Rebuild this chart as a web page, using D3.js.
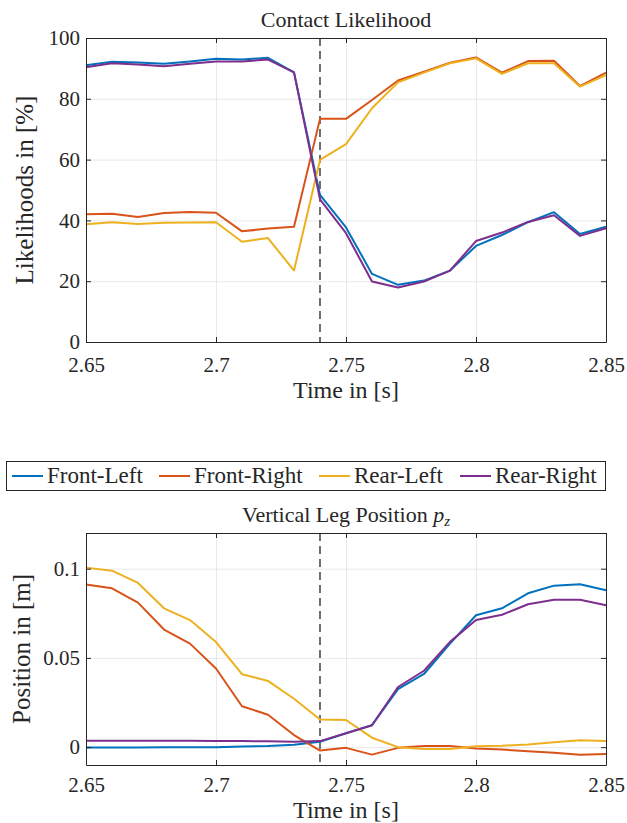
<!DOCTYPE html>
<html>
<head>
<meta charset="utf-8">
<script src="https://cdn.jsdelivr.net/npm/d3@7"></script>
<style>
  body { margin: 0; background: #fff; }
  svg text { font-family: "Liberation Serif", serif; fill: #262626; }
</style>
</head>
<body>
<div id="chart"></div>
<script>
// time samples [s]
const times = [2.65, 2.66, 2.67, 2.68, 2.69, 2.70, 2.71, 2.72, 2.73, 2.74, 2.75,
               2.76, 2.77, 2.78, 2.79, 2.80, 2.81, 2.82, 2.83, 2.84, 2.85];
const contactTime = 2.74;

const legNames = ['Front-Left', 'Front-Right', 'Rear-Left', 'Rear-Right'];
const legColors = ['#0072BD', '#D95319', '#EDB120', '#7E2F8E'];

// contact likelihood [%]
const likeFL = [91.0, 92.2, 91.9, 91.5, 92.3, 93.2, 92.9, 93.5, 88.7, 48.4, 37.7, 22.4, 18.8, 20.2, 23.5, 31.6, 35.2, 39.4, 42.7, 35.5, 37.9];
const likeFR = [42.0, 42.2, 41.1, 42.4, 42.8, 42.5, 36.4, 37.3, 37.9, 73.4, 73.4, 79.6, 86.0, 88.9, 91.9, 93.6, 88.6, 92.4, 92.5, 84.2, 88.6];
const likeRL = [38.7, 39.4, 38.8, 39.2, 39.3, 39.4, 33.0, 34.2, 23.5, 59.9, 65.1, 76.9, 85.4, 88.6, 91.7, 93.3, 88.2, 91.7, 91.7, 84.0, 87.8];
const likeRR = [90.4, 91.7, 91.3, 90.7, 91.5, 92.3, 92.3, 92.9, 88.7, 46.9, 35.8, 19.9, 17.9, 19.9, 23.5, 33.2, 36.0, 39.5, 41.7, 34.9, 37.4];

// vertical leg position [m]
const posFL = [-0.0002, -0.0002, -0.0002, -0.0001, -0.0001, 0.0000, 0.0003, 0.0006, 0.0013, 0.0030, 0.0078, 0.0123, 0.0325, 0.0410, 0.0580, 0.0739, 0.0778, 0.0862, 0.0905, 0.0913, 0.0879];
const posFR = [0.0911, 0.0890, 0.0810, 0.0659, 0.0580, 0.0441, 0.0229, 0.0182, 0.0068, -0.0019, -0.0004, -0.0042, -0.0004, 0.0006, 0.0006, -0.0008, -0.0013, -0.0023, -0.0032, -0.0042, -0.0038];
const posRL = [0.1006, 0.0989, 0.0920, 0.0778, 0.0712, 0.0589, 0.0409, 0.0371, 0.0271, 0.0155, 0.0152, 0.0053, 0.0000, -0.0010, -0.0010, 0.0005, 0.0008, 0.0015, 0.0028, 0.0038, 0.0034];
const posRR = [0.0036, 0.0036, 0.0036, 0.0036, 0.0036, 0.0035, 0.0034, 0.0033, 0.0030, 0.0034, 0.0078, 0.0123, 0.0337, 0.0428, 0.0590, 0.0712, 0.0742, 0.0801, 0.0826, 0.0826, 0.0795];

const xTicks = [2.65, 2.7, 2.75, 2.8, 2.85];
const likeTicks = [0, 20, 40, 60, 80, 100];
const posTicks = [0, 0.05, 0.1];

const W = 627, H = 823;
const FONT = '"Liberation Serif", serif';
const svg = d3.select('#chart').append('svg')
    .attr('width', W)
    .attr('height', H)
    .attr('font-family', FONT);

function drawPanel(opts) {
    const { top, bottom, yDomain, yTicks, yFmt, series, title, yLabel } = opts;
    const left = 86, right = 606;

    const x = d3.scaleLinear().domain([2.65, 2.85]).range([left, right]);
    const y = d3.scaleLinear().domain(yDomain).range([bottom, top]);

    const g = svg.append('g');

    // grid
    g.append('g')
        .attr('transform', `translate(0,${bottom})`)
        .call(d3.axisBottom(x).tickValues(xTicks).tickSize(-(bottom - top)).tickFormat(''))
        .call(a => a.select('.domain').remove())
        .selectAll('line').attr('stroke', '#e3e3e3').attr('stroke-width', 0.8);
    g.append('g')
        .attr('transform', `translate(${left},0)`)
        .call(d3.axisLeft(y).tickValues(yTicks).tickSize(-(right - left)).tickFormat(''))
        .call(a => a.select('.domain').remove())
        .selectAll('line').attr('stroke', '#e3e3e3').attr('stroke-width', 0.8);

    // dashed contact marker
    g.append('line')
        .attr('x1', x(contactTime)).attr('x2', x(contactTime))
        .attr('y1', top).attr('y2', bottom)
        .attr('stroke', '#111').attr('stroke-width', 1.2)
        .attr('stroke-dasharray', '8,5');

    // series
    const line = d3.line()
        .x((d, i) => x(times[i]))
        .y(d => y(d));
    series.forEach((vals, k) => {
        g.append('path')
            .datum(vals)
            .attr('fill', 'none')
            .attr('stroke', legColors[k])
            .attr('stroke-width', 2)
            .attr('stroke-linejoin', 'round')
            .attr('d', line);
    });

    // axes with inward ticks on every side
    const tick = 5;
    const axB = g.append('g')
        .attr('transform', `translate(0,${bottom})`)
        .call(d3.axisBottom(x).tickValues(xTicks).tickSizeInner(-tick).tickSizeOuter(0)
            .tickPadding(opts.xPad).tickFormat(d3.format('')));
    const axL = g.append('g')
        .attr('transform', `translate(${left},0)`)
        .call(d3.axisLeft(y).tickValues(yTicks).tickSizeInner(-tick).tickSizeOuter(0)
            .tickPadding(6).tickFormat(yFmt));
    g.append('g')
        .attr('transform', `translate(0,${top})`)
        .call(d3.axisTop(x).tickValues(xTicks).tickSizeInner(-tick).tickSizeOuter(0).tickFormat(''));
    g.append('g')
        .attr('transform', `translate(${right},0)`)
        .call(d3.axisRight(y).tickValues(yTicks).tickSizeInner(-tick).tickSizeOuter(0).tickFormat(''));

    g.selectAll('.domain').attr('stroke', '#262626').attr('stroke-width', 1);
    g.selectAll('.tick line').filter(function () { return !this.getAttribute('stroke-width'); })
        .attr('stroke', '#262626');
    [axB, axL].forEach(a => {
        a.attr('font-family', FONT).attr('font-size', 21);
        a.selectAll('text').attr('fill', '#262626');
    });

    // title
    g.append('text')
        .attr('x', (left + right) / 2)
        .attr('y', top - 11)
        .attr('text-anchor', 'middle')
        .attr('font-size', 22)
        .call(title);

    // x label
    g.append('text')
        .attr('x', (left + right) / 2)
        .attr('y', bottom + opts.xLabelDy)
        .attr('text-anchor', 'middle')
        .attr('font-size', 24)
        .text('Time in [s]');

    // y label
    g.append('text')
        .attr('transform', `translate(${opts.yLabelX},${(top + bottom) / 2}) rotate(-90)`)
        .attr('text-anchor', 'middle')
        .attr('font-size', 25)
        .text(yLabel);
}

drawPanel({
    top: 38, bottom: 342,
    yDomain: [0, 100], yTicks: likeTicks, yFmt: d3.format('d'),
    series: [likeFL, likeFR, likeRL, likeRR],
    title: t => t.text('Contact Likelihood'),
    yLabel: 'Likelihoods in [%]', yLabelX: 33, xLabelDy: 56, xPad: 15
});

drawPanel({
    top: 533, bottom: 765,
    yDomain: [-0.01, 0.12], yTicks: posTicks, yFmt: d => (d === 0 ? '0' : String(d)),
    series: [posFL, posFR, posRL, posRR],
    title: t => {
        t.append('tspan').text('Vertical Leg Position ');
        t.append('tspan').attr('font-style', 'italic').text('p');
        t.append('tspan').attr('font-style', 'italic').attr('font-size', 15)
            .attr('dy', 4).text('z');
    },
    yLabel: 'Position in [m]', yLabelX: 30, xLabelDy: 53, xPad: 12
});

// legend
const legend = svg.append('g');
legend.append('rect')
    .attr('x', 6.5).attr('y', 461.5)
    .attr('width', 599).attr('height', 29)
    .attr('fill', '#fff').attr('stroke', '#262626').attr('stroke-width', 1);
const legX = [12, 159, 319, 460];
legNames.forEach((name, k) => {
    legend.append('line')
        .attr('x1', legX[k]).attr('x2', legX[k] + 31)
        .attr('y1', 476).attr('y2', 476)
        .attr('stroke', legColors[k]).attr('stroke-width', 2);
    legend.append('text')
        .attr('x', legX[k] + 35).attr('y', 483)
        .attr('font-size', 23)
        .text(name);
});
</script>
</body>
</html>
